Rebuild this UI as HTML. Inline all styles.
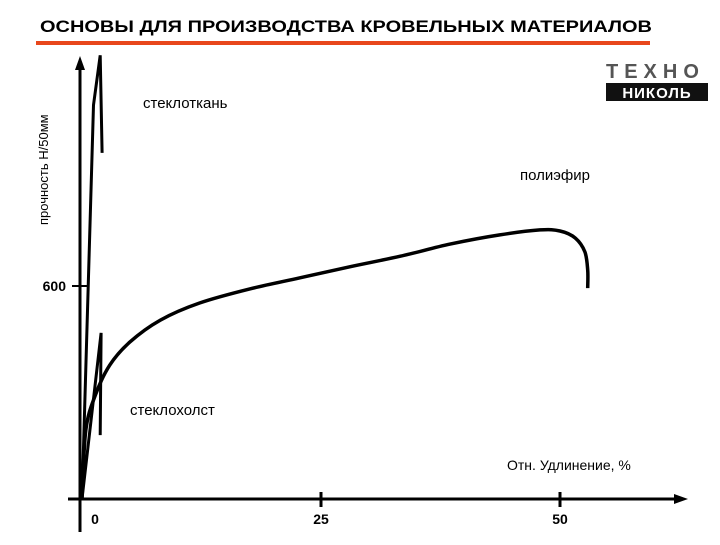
<!DOCTYPE html>
<html><head><meta charset="utf-8"><style>
body{margin:0;background:#fff;width:720px;height:540px;overflow:hidden;font-family:"Liberation Sans",sans-serif}
</style></head><body>
<svg width="720" height="540" viewBox="0 0 720 540" xmlns="http://www.w3.org/2000/svg">
<text x="40" y="32" font-size="17" font-weight="bold" font-family="Liberation Sans, sans-serif" textLength="612" lengthAdjust="spacingAndGlyphs">ОСНОВЫ ДЛЯ ПРОИЗВОДСТВА КРОВЕЛЬНЫХ МАТЕРИАЛОВ</text>
<rect x="36" y="41" width="614" height="4" fill="#e8471c"/>
<g>
<text x="606" y="78" font-size="20" font-weight="bold" fill="#555" letter-spacing="6">ТЕХНО</text>
<rect x="606" y="83" width="102" height="18" fill="#111"/>
<text x="657" y="98" font-size="15" font-weight="bold" fill="#fff" text-anchor="middle" letter-spacing="1">НИКОЛЬ</text>
</g>
<text transform="translate(48,225) rotate(-90)" font-size="13">прочность Н/50мм</text>
<g id="axes"></g>
<g id="marks"></g>
<text x="143" y="108" font-size="15">стеклоткань</text>
<text x="520" y="180" font-size="15">полиэфир</text>
<text x="130" y="415" font-size="15">стеклохолст</text>
<text x="507" y="470" font-size="14">Отн. Удлинение, %</text>
</svg>
<script>
const xTicks=[0,25,50];
const yTicks=[600];
const steklotkan=[[0,0],[1.2,1110],[1.9,1250],[2.1,975]];
const stekloholst=[[0,0],[2,468],[1.9,180]];
const poliefirX=[0,0.4,1.4,2.9,5,8.2,12.3,17.6,22.8,28,33.3,38.5,43.7,47.9,50,51.6,52.6,52.9,52.9];
const poliefirY=[0,194,293,377,442,504,552,592,623,654,684,718,744,758,755,735,696,645,594];
const X=v=>82+v*9.56, Y=v=>499-v*0.355;
const NS="http://www.w3.org/2000/svg";
const ax=document.getElementById('axes'), mk=document.getElementById('marks');
function el(t,a,p){const e=document.createElementNS(NS,t);for(const k in a)e.setAttribute(k,a[k]);p.appendChild(e);return e;}
let e=el('line',{x1:80,y1:532,x2:80,y2:66,stroke:'#000','stroke-width':3},ax);


e=el('path',{d:'M80,56 L75,70 L85,70 Z',fill:'#000'},ax);


e=el('line',{x1:68,y1:499,x2:676,y2:499,stroke:'#000','stroke-width':3},ax);


e=el('path',{d:'M688,499 L674,494 L674,504 Z',fill:'#000'},ax);


xTicks.forEach(v=>{
 if(v>0){const t=el('line',{x1:X(v),y1:492,x2:X(v),y2:507,stroke:'#000','stroke-width':3},ax);
 
 }
 const l=el('text',{x:X(v)+(v===0?13:0),y:524,'font-size':14,'font-weight':'bold','text-anchor':'middle'},ax);l.textContent=v;
 
 
});
yTicks.forEach(v=>{
 const t=el('line',{x1:72,y1:Y(v),x2:88,y2:Y(v),stroke:'#000','stroke-width':2},ax);
 
 
 const l=el('text',{x:66,y:Y(v)+5,'font-size':14,'font-weight':'bold','text-anchor':'end'},ax);l.textContent=v;
 
 
});
function poly(pts,name){
 const d=pts.map((p,i)=>(i?'L':'M')+X(p[0]).toFixed(1)+','+Y(p[1]).toFixed(1)).join(' ');
 const p=el('path',{d:d,fill:'none',stroke:'#000','stroke-width':3,'stroke-linejoin':'miter'},mk);
 
 
}
function smooth(xs,ys,name){
 const P=xs.map((x,i)=>[X(x),Y(ys[i])]);
 let d='M'+P[0][0]+','+P[0][1];
 for(let i=0;i<P.length-1;i++){
  const p0=P[Math.max(i-1,0)],p1=P[i],p2=P[i+1],p3=P[Math.min(i+2,P.length-1)];
  const c1=[p1[0]+(p2[0]-p0[0])/6,p1[1]+(p2[1]-p0[1])/6],c2=[p2[0]-(p3[0]-p1[0])/6,p2[1]-(p3[1]-p1[1])/6];
  d+=` C${c1[0].toFixed(1)},${c1[1].toFixed(1)} ${c2[0].toFixed(1)},${c2[1].toFixed(1)} ${p2[0].toFixed(1)},${p2[1].toFixed(1)}`;
 }
 const p=el('path',{d:d,fill:'none',stroke:'#000','stroke-width':3.5},mk);
 
 
}
poly(steklotkan,'steklotkan-line');
poly(stekloholst,'stekloholst-line');
smooth(poliefirX,poliefirY,'poliefir-line');
</script>
</body></html>
